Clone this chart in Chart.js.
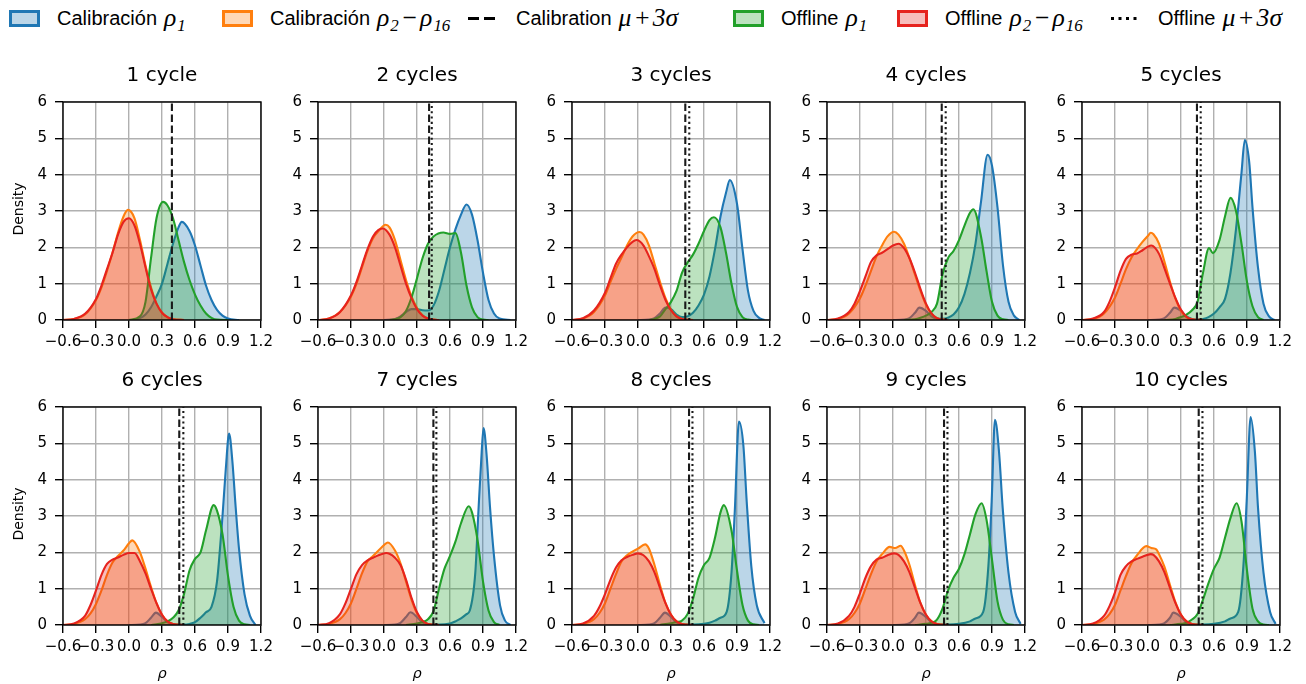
<!DOCTYPE html>
<html>
<head>
<meta charset="utf-8">
<script src="https://cdn.jsdelivr.net/npm/chart.js@4.4.1/dist/chart.umd.min.js"></script>
<style>
  html,body{margin:0;padding:0;background:#fff;}
  body{width:1306px;height:684px;position:relative;overflow:hidden;font-family:"DejaVu Sans",sans-serif;color:#000;}
  canvas{position:absolute;}
  .title{position:absolute;width:198px;text-align:center;font-size:20px;line-height:24px;white-space:nowrap;}
  .ylab{position:absolute;width:100px;height:20px;line-height:20px;text-align:center;font-size:14px;transform:rotate(-90deg);}
  .xlab{position:absolute;width:198px;height:20px;line-height:20px;text-align:center;font-size:14.5px;font-style:italic;}
  .it{position:absolute;top:9px;height:18px;display:flex;align-items:center;white-space:nowrap;font-family:"Liberation Sans",Arial,sans-serif;font-size:20px;}
  .it .tx{margin-left:17px;}
  .it i{font-family:"Liberation Serif","Times New Roman",serif;font-style:italic;font-size:1.28em;margin-left:7px;}
  .it sub{font-size:0.66em;vertical-align:-0.3em;line-height:0;margin-left:1px;}
  .it .op{margin:0 2px;}
</style>
</head>
<body>
<script>
// ---------------- data ----------------
const CYCLES = ['1 cycle','2 cycles','3 cycles','4 cycles','5 cycles','6 cycles','7 cycles','8 cycles','9 cycles','10 cycles'];
const X_TICKS = [-0.6,-0.3,0,0.3,0.6,0.9,1.2];
const Y_TICKS = [0,1,2,3,4,5,6];

// Calibración rho1 (blue) : [rho, density]
const CAL_RHO1 = [
 [[0.05,0],[0.1,0.05],[0.15,0.15],[0.2,0.35],[0.25,0.65],[0.3,1.0],[0.35,1.55],[0.4,2.1],[0.45,2.55],[0.48,2.7],[0.55,2.45],[0.6,2.05],[0.65,1.5],[0.7,0.95],[0.75,0.55],[0.8,0.28],[0.85,0.12],[0.9,0.04],[1.0,0]],
 [[0,0],[0.1,0.03],[0.15,0.1],[0.2,0.22],[0.25,0.3],[0.3,0.3],[0.35,0.27],[0.4,0.26],[0.45,0.4],[0.5,0.8],[0.55,1.4],[0.6,2.0],[0.65,2.5],[0.7,2.9],[0.75,3.18],[0.8,2.9],[0.85,2.2],[0.9,1.3],[0.95,0.55],[1.0,0.18],[1.05,0.04],[1.15,0]],
 [[0,0],[0.1,0.01],[0.15,0.05],[0.2,0.18],[0.25,0.34],[0.3,0.3],[0.35,0.15],[0.4,0.08],[0.45,0.1],[0.5,0.2],[0.55,0.4],[0.6,0.7],[0.65,1.2],[0.7,1.95],[0.75,2.85],[0.8,3.5],[0.835,3.85],[0.9,3.2],[0.95,1.95],[1.0,0.8],[1.05,0.25],[1.1,0.06],[1.15,0]],
 [[0,0],[0.1,0.01],[0.15,0.05],[0.2,0.2],[0.24,0.34],[0.3,0.25],[0.35,0.1],[0.4,0.04],[0.45,0.03],[0.5,0.06],[0.55,0.15],[0.6,0.35],[0.65,0.72],[0.7,1.3],[0.75,2.1],[0.8,3.25],[0.86,4.55],[0.9,4.25],[0.95,3.1],[1.0,1.5],[1.05,0.5],[1.1,0.12],[1.15,0]],
 [[0,0],[0.1,0.01],[0.15,0.05],[0.2,0.2],[0.24,0.34],[0.3,0.25],[0.35,0.1],[0.4,0.03],[0.45,0.01],[0.5,0.03],[0.55,0.08],[0.6,0.18],[0.65,0.35],[0.7,0.58],[0.75,1.3],[0.8,2.5],[0.85,4.05],[0.88,4.95],[0.92,4.35],[0.95,3.1],[1.0,1.44],[1.05,0.45],[1.1,0.1],[1.15,0]],
 [[0,0],[0.1,0.01],[0.15,0.05],[0.2,0.2],[0.245,0.34],[0.3,0.22],[0.35,0.08],[0.4,0.02],[0.5,0.01],[0.55,0.03],[0.6,0.08],[0.65,0.2],[0.7,0.35],[0.75,0.5],[0.8,1.2],[0.85,3.0],[0.88,4.3],[0.91,5.27],[0.94,4.5],[0.97,3.23],[1.0,2.1],[1.05,0.85],[1.1,0.25],[1.15,0]],
 [[0,0],[0.1,0.01],[0.15,0.06],[0.2,0.22],[0.24,0.35],[0.3,0.22],[0.35,0.07],[0.4,0.02],[0.5,0.01],[0.6,0.04],[0.65,0.1],[0.7,0.18],[0.75,0.3],[0.78,0.4],[0.83,1.44],[0.857,3.05],[0.888,4.76],[0.905,5.42],[0.933,4.67],[0.964,3.23],[1.0,1.9],[1.055,0.54],[1.1,0.12],[1.15,0]],
 [[0,0],[0.1,0.01],[0.15,0.05],[0.2,0.2],[0.245,0.34],[0.3,0.22],[0.35,0.07],[0.4,0.02],[0.5,0.01],[0.6,0.03],[0.65,0.06],[0.7,0.12],[0.75,0.2],[0.806,0.36],[0.85,1.44],[0.88,3.14],[0.918,5.6],[0.958,4.94],[0.988,3.41],[1.03,1.62],[1.08,0.54],[1.15,0.05]],
 [[0,0],[0.1,0.01],[0.15,0.05],[0.2,0.2],[0.235,0.34],[0.3,0.22],[0.35,0.07],[0.4,0.02],[0.5,0.01],[0.6,0.03],[0.7,0.1],[0.75,0.18],[0.82,0.36],[0.867,1.62],[0.897,3.41],[0.927,5.65],[0.964,4.76],[0.997,3.23],[1.05,1.44],[1.11,0.36],[1.16,0.03]],
 [[0,0],[0.1,0.01],[0.15,0.05],[0.2,0.2],[0.23,0.34],[0.3,0.22],[0.35,0.07],[0.4,0.02],[0.5,0.01],[0.6,0.03],[0.7,0.1],[0.75,0.18],[0.82,0.36],[0.867,1.62],[0.897,3.41],[0.933,5.72],[0.972,4.76],[1.0,3.23],[1.05,1.44],[1.11,0.36],[1.16,0.03]]
];

// Calibración rho2-rho16 (orange)
const CAL_REST = [
 [[-0.6,0],[-0.5,0.03],[-0.4,0.15],[-0.3,0.55],[-0.25,0.9],[-0.2,1.35],[-0.15,1.85],[-0.1,2.4],[-0.05,2.85],[-0.01,3.03],[0.05,2.8],[0.1,2.2],[0.15,1.5],[0.2,0.9],[0.25,0.45],[0.3,0.2],[0.35,0.07],[0.4,0.02],[0.5,0]],
 [[-0.6,0],[-0.5,0.04],[-0.4,0.22],[-0.3,0.65],[-0.25,1.0],[-0.2,1.45],[-0.15,1.9],[-0.1,2.25],[-0.05,2.45],[0.015,2.62],[0.05,2.55],[0.1,2.2],[0.15,1.65],[0.2,1.1],[0.25,0.65],[0.3,0.33],[0.35,0.13],[0.4,0.04],[0.5,0]],
 [[-0.6,0],[-0.5,0.04],[-0.4,0.22],[-0.3,0.68],[-0.25,1.05],[-0.2,1.4],[-0.15,1.72],[-0.1,2.05],[-0.05,2.3],[0.015,2.42],[0.05,2.35],[0.1,2.05],[0.15,1.55],[0.2,1.05],[0.25,0.6],[0.3,0.28],[0.35,0.1],[0.4,0.03],[0.5,0]],
 [[-0.6,0],[-0.5,0.03],[-0.4,0.18],[-0.3,0.6],[-0.25,0.95],[-0.2,1.35],[-0.15,1.75],[-0.1,2.05],[-0.05,2.3],[0.01,2.43],[0.05,2.35],[0.1,2.1],[0.15,1.7],[0.2,1.25],[0.25,0.8],[0.3,0.42],[0.35,0.17],[0.4,0.05],[0.5,0]],
 [[-0.6,0],[-0.5,0.03],[-0.4,0.18],[-0.3,0.62],[-0.25,1.0],[-0.2,1.4],[-0.15,1.72],[-0.1,1.95],[-0.05,2.15],[0,2.32],[0.025,2.4],[0.05,2.36],[0.1,2.1],[0.15,1.6],[0.2,1.05],[0.25,0.58],[0.3,0.25],[0.35,0.08],[0.4,0.02],[0.5,0]],
 [[-0.6,0],[-0.5,0.03],[-0.4,0.16],[-0.35,0.32],[-0.3,0.58],[-0.25,0.95],[-0.2,1.38],[-0.15,1.72],[-0.1,1.9],[-0.05,2.05],[0,2.25],[0.03,2.33],[0.1,2.0],[0.15,1.55],[0.2,1.05],[0.25,0.6],[0.3,0.28],[0.35,0.1],[0.4,0.03],[0.5,0]],
 [[-0.6,0],[-0.5,0.03],[-0.4,0.16],[-0.35,0.33],[-0.3,0.6],[-0.25,1.0],[-0.2,1.42],[-0.15,1.75],[-0.1,1.9],[-0.05,2.05],[0,2.2],[0.035,2.27],[0.1,2.05],[0.15,1.7],[0.2,1.2],[0.25,0.7],[0.3,0.32],[0.35,0.11],[0.4,0.03],[0.5,0]],
 [[-0.6,0],[-0.5,0.03],[-0.4,0.16],[-0.35,0.33],[-0.3,0.6],[-0.25,1.0],[-0.2,1.4],[-0.15,1.75],[-0.1,1.92],[-0.05,2.02],[0,2.1],[0.065,2.22],[0.1,2.1],[0.15,1.65],[0.2,1.1],[0.25,0.6],[0.3,0.28],[0.35,0.1],[0.4,0.03],[0.5,0]],
 [[-0.6,0],[-0.5,0.03],[-0.4,0.16],[-0.35,0.33],[-0.3,0.6],[-0.25,1.0],[-0.2,1.4],[-0.15,1.75],[-0.1,1.95],[-0.03,2.15],[0.02,2.12],[0.07,2.18],[0.1,2.05],[0.15,1.65],[0.2,1.1],[0.25,0.6],[0.3,0.28],[0.35,0.1],[0.4,0.03],[0.5,0]],
 [[-0.6,0],[-0.5,0.03],[-0.4,0.15],[-0.35,0.3],[-0.3,0.55],[-0.25,0.95],[-0.2,1.35],[-0.15,1.7],[-0.1,1.92],[-0.015,2.17],[0.03,2.12],[0.075,2.08],[0.1,1.95],[0.15,1.6],[0.2,1.1],[0.25,0.62],[0.3,0.28],[0.35,0.1],[0.4,0.03],[0.5,0]]
];

// Offline rho1 (green)
const OFF_RHO1 = [
 [[0,0],[0.1,0.1],[0.15,0.5],[0.2,1.7],[0.25,2.8],[0.31,3.25],[0.35,3.15],[0.4,2.8],[0.45,2.2],[0.5,1.6],[0.55,1.1],[0.6,0.7],[0.65,0.4],[0.7,0.18],[0.75,0.06],[0.8,0.01],[0.9,0]],
 [[0.05,0],[0.1,0.02],[0.15,0.08],[0.2,0.25],[0.25,0.62],[0.3,1.15],[0.35,1.7],[0.4,2.1],[0.45,2.3],[0.54,2.41],[0.6,2.37],[0.65,2.39],[0.7,1.85],[0.75,0.95],[0.8,0.35],[0.85,0.08],[0.9,0.01],[0.95,0]],
 [[0.1,0],[0.15,0.03],[0.2,0.1],[0.25,0.3],[0.3,0.5],[0.35,0.8],[0.4,1.3],[0.45,1.58],[0.5,1.8],[0.55,2.1],[0.6,2.45],[0.65,2.75],[0.69,2.83],[0.75,2.55],[0.8,1.85],[0.85,1.0],[0.9,0.36],[0.95,0.08],[1.0,0.01],[1.05,0]],
 [[0.1,0],[0.2,0.02],[0.25,0.06],[0.3,0.12],[0.35,0.22],[0.4,0.45],[0.45,1.25],[0.5,1.7],[0.55,1.9],[0.6,2.2],[0.65,2.6],[0.7,2.95],[0.73,3.05],[0.8,2.3],[0.85,1.35],[0.9,0.5],[0.95,0.12],[1.0,0.02],[1.05,0]],
 [[0.15,0],[0.25,0.03],[0.3,0.08],[0.35,0.15],[0.4,0.27],[0.45,0.5],[0.5,1.3],[0.555,1.98],[0.59,1.84],[0.65,2.2],[0.7,2.85],[0.75,3.36],[0.8,3.0],[0.85,2.1],[0.9,1.05],[0.95,0.38],[1.0,0.08],[1.05,0]],
 [[0.2,0],[0.25,0.02],[0.3,0.05],[0.35,0.1],[0.4,0.2],[0.45,0.4],[0.5,0.85],[0.55,1.5],[0.6,1.82],[0.65,2.0],[0.7,2.6],[0.77,3.3],[0.8,3.15],[0.85,2.5],[0.9,1.35],[0.95,0.5],[1.0,0.12],[1.05,0.02],[1.1,0]],
 [[0.2,0],[0.3,0.04],[0.35,0.08],[0.4,0.16],[0.45,0.38],[0.5,1.0],[0.55,1.55],[0.6,1.9],[0.65,2.3],[0.7,2.8],[0.77,3.27],[0.8,3.1],[0.85,2.35],[0.9,1.2],[0.95,0.4],[1.0,0.08],[1.05,0]],
 [[0.2,0],[0.3,0.05],[0.35,0.08],[0.4,0.12],[0.45,0.3],[0.5,0.72],[0.55,1.3],[0.6,1.65],[0.65,1.85],[0.7,2.4],[0.75,3.1],[0.78,3.3],[0.85,2.6],[0.9,1.5],[0.95,0.55],[1.0,0.12],[1.05,0.02],[1.1,0]],
 [[0.2,0],[0.3,0.03],[0.35,0.06],[0.4,0.15],[0.45,0.45],[0.5,0.95],[0.55,1.3],[0.6,1.55],[0.65,1.95],[0.7,2.5],[0.75,3.05],[0.805,3.35],[0.85,2.9],[0.9,1.8],[0.95,0.65],[1.0,0.14],[1.05,0.02],[1.1,0]],
 [[0.2,0],[0.3,0.03],[0.35,0.06],[0.4,0.15],[0.45,0.3],[0.5,0.7],[0.55,1.15],[0.6,1.55],[0.65,1.85],[0.7,2.4],[0.75,2.95],[0.805,3.35],[0.85,2.85],[0.9,1.5],[0.95,0.45],[1.0,0.1],[1.05,0.01],[1.1,0]]
];

// Offline rho2-rho16 (red)
const OFF_REST = [
 [[-0.6,0],[-0.5,0.03],[-0.4,0.17],[-0.3,0.58],[-0.25,0.95],[-0.2,1.4],[-0.15,1.85],[-0.1,2.35],[-0.05,2.7],[0,2.8],[0.05,2.6],[0.1,2.1],[0.15,1.45],[0.2,0.85],[0.25,0.45],[0.3,0.2],[0.35,0.08],[0.4,0.02],[0.5,0]],
 [[-0.6,0],[-0.5,0.04],[-0.4,0.22],[-0.3,0.68],[-0.25,1.05],[-0.2,1.5],[-0.15,1.95],[-0.1,2.3],[-0.05,2.48],[-0.01,2.52],[0.05,2.35],[0.1,2.0],[0.15,1.5],[0.2,1.0],[0.25,0.6],[0.3,0.3],[0.35,0.12],[0.4,0.04],[0.5,0]],
 [[-0.6,0],[-0.5,0.05],[-0.4,0.26],[-0.3,0.75],[-0.25,1.15],[-0.2,1.55],[-0.15,1.8],[-0.1,2.0],[-0.05,2.15],[-0.015,2.2],[0.05,2.05],[0.1,1.75],[0.15,1.4],[0.2,0.95],[0.25,0.55],[0.3,0.27],[0.35,0.1],[0.4,0.03],[0.5,0]],
 [[-0.6,0],[-0.5,0.04],[-0.4,0.22],[-0.35,0.45],[-0.3,0.8],[-0.25,1.2],[-0.2,1.6],[-0.15,1.78],[-0.1,1.85],[-0.05,1.95],[0,2.05],[0.05,2.1],[0.1,1.98],[0.15,1.7],[0.2,1.3],[0.25,0.85],[0.3,0.45],[0.35,0.18],[0.4,0.05],[0.5,0]],
 [[-0.6,0],[-0.5,0.04],[-0.4,0.22],[-0.35,0.5],[-0.3,0.9],[-0.25,1.35],[-0.2,1.68],[-0.15,1.8],[-0.1,1.83],[-0.05,1.92],[0,2.02],[0.03,2.05],[0.1,1.82],[0.15,1.42],[0.2,1.0],[0.25,0.6],[0.3,0.28],[0.35,0.09],[0.4,0.02],[0.5,0]],
 [[-0.6,0],[-0.5,0.04],[-0.4,0.25],[-0.35,0.55],[-0.3,0.95],[-0.25,1.38],[-0.2,1.68],[-0.15,1.8],[-0.1,1.86],[-0.05,1.93],[0,1.98],[0.05,1.98],[0.1,1.75],[0.15,1.42],[0.2,1.0],[0.25,0.6],[0.3,0.28],[0.35,0.1],[0.4,0.03],[0.5,0]],
 [[-0.6,0],[-0.5,0.05],[-0.4,0.3],[-0.35,0.6],[-0.3,1.0],[-0.25,1.4],[-0.2,1.65],[-0.15,1.78],[-0.1,1.85],[-0.05,1.92],[0.02,1.98],[0.05,1.96],[0.1,1.85],[0.15,1.65],[0.2,1.25],[0.25,0.75],[0.3,0.35],[0.35,0.12],[0.4,0.03],[0.5,0]],
 [[-0.6,0],[-0.5,0.04],[-0.4,0.25],[-0.35,0.5],[-0.3,0.85],[-0.25,1.25],[-0.2,1.58],[-0.15,1.78],[-0.1,1.87],[-0.05,1.93],[0,1.97],[0.05,1.92],[0.1,1.75],[0.15,1.45],[0.2,1.02],[0.25,0.6],[0.3,0.28],[0.35,0.1],[0.4,0.03],[0.5,0]],
 [[-0.6,0],[-0.5,0.04],[-0.4,0.25],[-0.35,0.5],[-0.3,0.88],[-0.25,1.3],[-0.2,1.62],[-0.15,1.8],[-0.1,1.85],[-0.05,1.92],[0.01,1.97],[0.05,1.93],[0.1,1.75],[0.15,1.45],[0.2,1.02],[0.25,0.6],[0.3,0.28],[0.35,0.1],[0.4,0.03],[0.5,0]],
 [[-0.6,0],[-0.5,0.04],[-0.4,0.25],[-0.35,0.52],[-0.3,0.9],[-0.25,1.38],[-0.2,1.62],[-0.15,1.75],[-0.1,1.82],[-0.05,1.88],[0.025,1.95],[0.05,1.93],[0.1,1.75],[0.15,1.45],[0.2,1.02],[0.25,0.6],[0.3,0.28],[0.35,0.1],[0.4,0.03],[0.5,0]]
];

// mu + 3 sigma thresholds
const CAL_THRESH = [0.39,0.41,0.43,0.443,0.445,0.457,0.449,0.464,0.464,0.461];
const OFF_THRESH = [null,0.434,0.466,0.479,0.479,0.494,0.476,0.495,0.495,0.495];

// ---------------- style / layout ----------------
const BLUE='#1f77b4', ORANGE='#ff7f0e', GREEN='#22a02a', RED='#e6231e';
const FILL_A = 0.3;
const COL_LEFT=[63,318,572,827,1082], ROW_TOP=[97,402];
const PW=198, PH=223, PAD_L=60, PAD_T=12, CW=278, CH=285;

function rgba(hex,a){const n=parseInt(hex.slice(1),16);return `rgba(${n>>16},${(n>>8)&255},${n&255},${a})`;}
function pts(a){return a.map(p=>({x:p[0],y:p[1]}));}
function kde(data,color,order){
  return {data:pts(data),borderColor:color,backgroundColor:rgba(color,FILL_A),borderWidth:2.1,
          fill:'origin',pointRadius:0,pointHoverRadius:0,cubicInterpolationMode:'monotone',order};
}
function vline(x,dash,order){
  return {data:[{x:x,y:0},{x:x,y:6}],borderColor:'#1a1a1a',borderWidth:2.1,borderDash:dash,
          borderCapStyle:'butt',fill:false,pointRadius:0,order};
}
function fmt(v){const s=Math.abs(v).toFixed(1);return (v<-1e-9?'\u2212':'')+s;}

const frame={id:'frame',afterDraw(c){const a=c.chartArea,ctx=c.ctx;ctx.save();ctx.strokeStyle='#000';ctx.lineWidth=1.4;
  ctx.strokeRect(a.left,a.top,a.right-a.left,a.bottom-a.top);ctx.restore();}};

Chart.defaults.font.family='DejaVu Sans';
Chart.defaults.color='#000';

// legend
const LEGEND=[
  {x:9,   type:'patch', color:BLUE,   text:'Calibración', math:'ρ<sub>1</sub>'},
  {x:222, type:'patch', color:ORANGE, text:'Calibración', math:'ρ<sub>2</sub><span class="op">−</span>ρ<sub>16</sub>'},
  {x:468, type:'dash',  text:'Calibration', math:'μ<span class="op">+</span>3σ'},
  {x:733, type:'patch', color:GREEN,  text:'Offline', math:'ρ<sub>1</sub>'},
  {x:897, type:'patch', color:RED,    text:'Offline', math:'ρ<sub>2</sub><span class="op">−</span>ρ<sub>16</sub>'},
  {x:1110,type:'dot',   text:'Offline', math:'μ<span class="op">+</span>3σ'}
];
LEGEND.forEach(it=>{
  const d=document.createElement('div');d.className='it';d.style.left=it.x+'px';
  let svg;
  if(it.type==='patch') svg=`<svg width="31" height="17"><rect x="1.5" y="1.5" width="28" height="14" fill="${rgba(it.color,FILL_A)}" stroke="${it.color}" stroke-width="3"/></svg>`;
  else if(it.type==='dash') svg=`<svg width="31" height="17"><line x1="0" y1="8.5" x2="31" y2="8.5" stroke="#000" stroke-width="3" stroke-dasharray="11,5"/></svg>`;
  else svg=`<svg width="31" height="17"><line x1="1" y1="8.5" x2="31" y2="8.5" stroke="#000" stroke-width="3" stroke-dasharray="3,4.5"/></svg>`;
  d.innerHTML=svg+`<span class="tx">${it.text}</span><i>${it.math}</i>`;
  document.body.appendChild(d);
});

for(let i=0;i<10;i++){
  const r=Math.floor(i/5), c=i%5;
  const L=COL_LEFT[c], T=ROW_TOP[r];
  const cv=document.createElement('canvas');
  cv.width=CW;cv.height=CH;cv.style.width=CW+'px';cv.style.height=CH+'px';
  cv.style.left=(L-PAD_L)+'px';cv.style.top=(T-PAD_T)+'px';
  document.body.appendChild(cv);

  const t=document.createElement('div');t.className='title';t.textContent=CYCLES[i];
  t.style.left=L+'px';t.style.top=(T-35)+'px';document.body.appendChild(t);
  if(c===0){const y=document.createElement('div');y.className='ylab';y.textContent='Density';
    y.style.left=(17.5-50)+'px';y.style.top=(T+PH/2-10)+'px';document.body.appendChild(y);}
  if(r===1){const x=document.createElement('div');x.className='xlab';x.textContent='ρ';
    x.style.left=L+'px';x.style.top='663px';document.body.appendChild(x);}

  const ds=[
    kde(CAL_RHO1[i],BLUE,5),
    kde(CAL_REST[i],ORANGE,4),
    kde(OFF_RHO1[i],GREEN,3),
    kde(OFF_REST[i],RED,2),
    vline(CAL_THRESH[i],[7.5,3.5],1)
  ];
  if(OFF_THRESH[i]!==null) ds.push(vline(OFF_THRESH[i],[2.1,3.2],0));

  new Chart(cv,{
    type:'line',
    data:{datasets:ds},
    plugins:[frame],
    options:{
      responsive:false,animation:false,devicePixelRatio:1,
      layout:{padding:{left:PAD_L-40,top:PAD_T,right:CW-PAD_L-PW,bottom:CH-PAD_T-PH-40}},
      plugins:{legend:{display:false},tooltip:{enabled:false}},
      events:[],
      scales:{
        x:{type:'linear',min:-0.6,max:1.2,
           afterBuildTicks:s=>{s.ticks=X_TICKS.map(v=>({value:v}));},
           afterFit:s=>{s.height=40;},
           ticks:{autoSkip:false,maxRotation:0,minRotation:0,padding:5,color:'#000',font:{size:15},callback:v=>fmt(v)},
           grid:{color:'#b0b0b0',lineWidth:1.4,tickColor:'#000',tickLength:8,tickWidth:1.4},
           border:{display:false}},
        y:{type:'linear',min:0,max:6,
           afterBuildTicks:s=>{s.ticks=Y_TICKS.map(v=>({value:v}));},
           afterFit:s=>{s.width=40;},
           ticks:{padding:8,color:'#000',font:{size:15},callback:v=>String(v)},
           grid:{color:'#b0b0b0',lineWidth:1.4,tickColor:'#000',tickLength:8,tickWidth:1.4},
           border:{display:false}}
      }
    }
  });
}
</script>
</body>
</html>
